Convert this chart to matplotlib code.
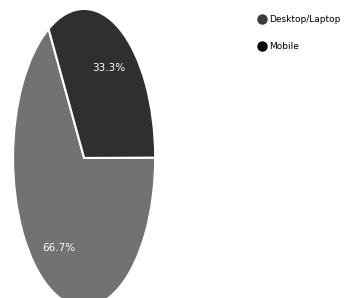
import matplotlib
matplotlib.use("Agg")
import matplotlib.pyplot as plt
from matplotlib.lines import Line2D

# Datos del gráfico
labels = ["Desktop/Laptop", "Mobile"]
shares = [66.7, 33.3]
slice_colors = ["#727272", "#2f2f2f"]
legend_colors = ["#3c3c3c", "#080808"]

fig = plt.figure(figsize=(3.44, 2.98), dpi=100)
ax = fig.add_axes([0.038, -0.030, 0.413, 1.0])

wedges, texts, autotexts = ax.pie(
    shares,
    colors=slice_colors,
    startangle=120,
    autopct="%1.1f%%",
    pctdistance=0.7,
    wedgeprops=dict(edgecolor="white", linewidth=1.5),
    textprops=dict(color="white", fontsize=7.5),
)
ax.set_aspect("auto")
ax.set_xlim(-1, 1)
ax.set_ylim(-1, 1)

handles = [
    Line2D([], [], marker="o", linestyle="none", markersize=6.5, color=c)
    for c in legend_colors
]
fig.legend(
    handles,
    labels,
    loc="upper left",
    bbox_to_anchor=(0.725, 0.978),
    frameon=False,
    handlelength=1.0,
    handletextpad=0.3,
    labelspacing=2.0,
    prop=dict(size=6.5),
)

plt.savefig("out.png", dpi=100)
plt.close()
